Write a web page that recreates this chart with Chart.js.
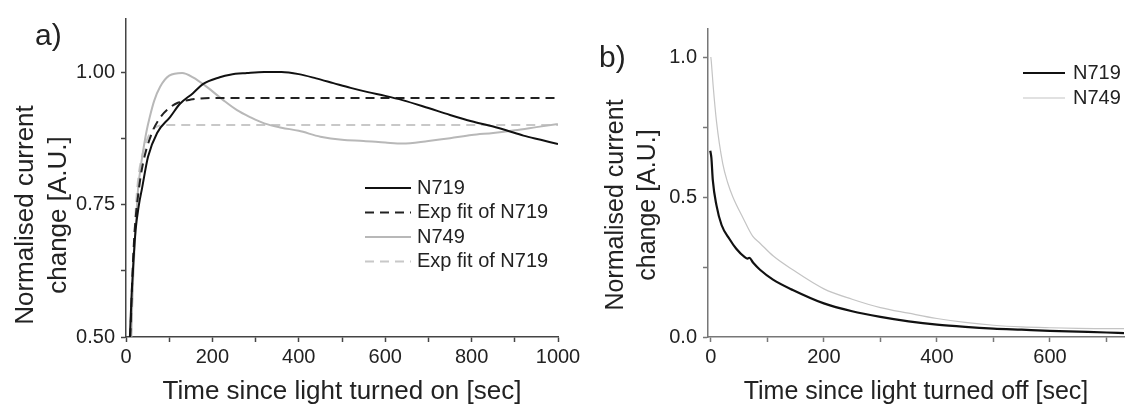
<!DOCTYPE html>
<html>
<head>
<meta charset="utf-8">
<script src="https://cdn.jsdelivr.net/npm/chart.js@4/dist/chart.umd.min.js"></script>
<style>
  body { margin: 0; background: #fff; width: 1125px; height: 407px; position: relative; overflow: hidden;
         font-family: "Liberation Sans", Arial, sans-serif; color: #222; }
  canvas { position: absolute; top: 0; }
  #chartA { left: 0; }
  #chartB { left: 560px; }
  .tag { position: absolute; font-size: 30px; line-height: 30px; }
  .ytitle { position: absolute; white-space: nowrap; text-align: center;
            transform: translate(-50%, -50%) rotate(-90deg); }
</style>
</head>
<body>
<canvas id="chartA" width="600" height="407"></canvas>
<canvas id="chartB" width="565" height="407"></canvas>
<div class="tag" style="left:35px; top:20px;">a)</div>
<div class="tag" style="left:599px; top:42px;">b)</div>
<div class="ytitle" style="left:41px; top:215px; font-size:26px; line-height:33px;">Normalised current<br>change [A.U.]</div>
<div class="ytitle" style="left:630px; top:205px; font-size:25px; line-height:32px;">Normalised current<br>change [A.U.]</div>

<script>
// ---- panel a: light turned on ----
const n719OnTime = [9, 13, 17, 22, 30, 37, 51, 72, 102, 125, 155, 178, 217, 241, 280, 320, 360, 400, 440, 480, 520, 560, 600, 640, 700, 750, 800, 850, 880, 920, 960, 1000];
const n719On     = [0.50, 0.58, 0.64, 0.70, 0.75, 0.78, 0.84, 0.885, 0.915, 0.94, 0.96, 0.977, 0.99, 0.995, 0.998, 1.0, 1.0, 0.996, 0.988, 0.979, 0.97, 0.962, 0.955, 0.947, 0.932, 0.919, 0.907, 0.897, 0.89, 0.88, 0.872, 0.864];

const n719FitTime = [10, 15, 20, 30, 40, 60, 80, 100, 120, 150, 200, 1000];
const n719Fit     = [0.50, 0.62, 0.70, 0.78, 0.83, 0.885, 0.915, 0.932, 0.942, 0.948, 0.951, 0.951];

const n749OnTime = [12, 16, 20, 24, 28, 34, 40, 48, 55, 65, 79, 100, 130, 155, 187, 225, 257, 287, 320, 360, 400, 450, 500, 550, 600, 640, 700, 750, 800, 850, 900, 950, 1000];
const n749On     = [0.50, 0.60, 0.67, 0.73, 0.78, 0.82, 0.853, 0.89, 0.915, 0.945, 0.972, 0.993, 0.998, 0.99, 0.972, 0.947, 0.928, 0.915, 0.903, 0.895, 0.889, 0.878, 0.872, 0.87, 0.867, 0.865, 0.87, 0.875, 0.881, 0.885, 0.89, 0.896, 0.902];

const n749FitTime = [12, 16, 20, 25, 30, 40, 50, 60, 75, 100, 1000];
const n749Fit     = [0.50, 0.62, 0.70, 0.77, 0.81, 0.85, 0.875, 0.89, 0.898, 0.90, 0.90];

const xTicksA  = [0, 100, 200, 300, 400, 500, 600, 700, 800, 900, 1000];
const xLabelsA = ['0', '', '200', '', '400', '', '600', '', '800', '', '1000'];
const yTicksA  = [0.5, 0.625, 0.75, 0.875, 1.0];
const yLabelsA = ['0.50', '', '0.75', '', '1.00'];

// ---- panel b: light turned off ----
const n719OffTime = [-1, 1, 3.5, 10, 19, 33, 45, 60, 65, 68, 75, 87, 110, 145, 200, 250, 300, 350, 400, 450, 500, 550, 600, 650, 700, 731];
const n719Off     = [0.665, 0.64, 0.56, 0.47, 0.40, 0.35, 0.315, 0.285, 0.28, 0.283, 0.265, 0.24, 0.205, 0.168, 0.12, 0.092, 0.072, 0.056, 0.044, 0.036, 0.030, 0.026, 0.022, 0.019, 0.016, 0.014];

const n749OffTime = [0, 1, 4, 10, 21, 30, 39, 57, 74, 87, 110, 145, 200, 250, 300, 350, 400, 450, 500, 550, 600, 650, 700, 731];
const n749Off     = [1.0, 0.98, 0.90, 0.77, 0.62, 0.55, 0.50, 0.425, 0.36, 0.335, 0.29, 0.24, 0.172, 0.135, 0.105, 0.085, 0.066, 0.052, 0.042, 0.036, 0.033, 0.031, 0.030, 0.030];

const xTicksB  = [0, 100, 200, 300, 400, 500, 600, 700];
const xLabelsB = ['0', '', '200', '', '400', '', '600', ''];
const yTicksB  = [0, 0.25, 0.5, 0.75, 1.0];
const yLabelsB = ['0.0', '', '0.5', '', '1.0'];

const fam = '"Liberation Sans", Arial, sans-serif';

function pts(xs, ys) {
  return xs.map((x, i) => ({ x: x, y: ys[i] }));
}

// legend drawn inside the plot, short line sample + label
const lineKey = {
  id: 'lineKey',
  afterDatasetsDraw(chart, args, o) {
    const ctx = chart.ctx;
    ctx.save();
    ctx.font = o.size + 'px ' + fam;
    ctx.textBaseline = 'middle';
    chart.data.datasets.forEach((ds, i) => {
      const y = o.y + i * o.gap;
      ctx.beginPath();
      ctx.setLineDash(ds.borderDash || []);
      ctx.strokeStyle = ds.borderColor;
      ctx.lineWidth = ds.borderWidth;
      ctx.moveTo(o.x, y);
      ctx.lineTo(o.x + o.len, y);
      ctx.stroke();
      ctx.setLineDash([]);
      ctx.fillStyle = '#222';
      ctx.fillText(ds.label, o.x + o.len + o.pad, y);
    });
    ctx.restore();
  }
};

function axis(min, max, ticks, labels, axisColor, yAxis, width, title, titleSize) {
  const s = {
    type: 'linear',
    min: min,
    max: max,
    afterBuildTicks: sc => { sc.ticks = ticks.map(v => ({ value: v })); },
    ticks: {
      autoSkip: false,
      maxRotation: 0,
      padding: yAxis ? 6 : 3,
      color: '#222',
      font: { family: fam, size: 20 },
      callback: (v, i) => labels[i]
    },
    grid: { drawOnChartArea: false, drawTicks: true, tickLength: 5, tickColor: axisColor, tickWidth: 1.5 },
    border: { display: true, color: axisColor, width: 1.5 }
  };
  if (yAxis) {
    s.afterFit = sc => { sc.width = width; };
  } else {
    s.afterFit = sc => { sc.height = 70; };
    s.title = { display: true, text: title, color: '#222', padding: { top: 0, bottom: 0 },
                font: { family: fam, size: titleSize } };
  }
  return s;
}

const base = {
  responsive: false,
  animation: false,
  events: [],
  elements: { point: { radius: 0 }, line: { cubicInterpolationMode: 'monotone' } }
};

new Chart(document.getElementById('chartA'), {
  type: 'line',
  data: {
    datasets: [
      { label: 'N719', data: pts(n719OnTime, n719On), borderColor: '#111', borderWidth: 2 },
      { label: 'Exp fit of N719', data: pts(n719FitTime, n719Fit), borderColor: '#222', borderWidth: 2, borderDash: [9, 6] },
      { label: 'N749', data: pts(n749OnTime, n749On), borderColor: '#b8b8b8', borderWidth: 2 },
      { label: 'Exp fit of N719', data: pts(n749FitTime, n749Fit), borderColor: '#c8c8c8', borderWidth: 2, borderDash: [9, 6] }
    ]
  },
  options: Object.assign({}, base, {
    layout: { padding: { left: 0, top: 19, right: 42, bottom: 0 } },
    scales: {
      x: axis(0, 1000, xTicksA, xLabelsA, '#444', false, 0, 'Time since light turned on [sec]', 26),
      y: axis(0.5, 1.1, yTicksA, yLabelsA, '#444', true, 126)
    },
    plugins: {
      legend: { display: false },
      tooltip: { enabled: false },
      lineKey: { x: 365, y: 188, gap: 24.5, len: 46, pad: 6, size: 20 }
    }
  }),
  plugins: [lineKey]
});

new Chart(document.getElementById('chartB'), {
  type: 'line',
  data: {
    datasets: [
      { label: 'N719', data: pts(n719OffTime, n719Off), borderColor: '#111', borderWidth: 2.2 },
      { label: 'N749', data: pts(n749OffTime, n749Off), borderColor: '#c4c4c4', borderWidth: 1.2 }
    ]
  },
  options: Object.assign({}, base, {
    layout: { padding: { left: 0, top: 29, right: 1, bottom: 0 } },
    scales: {
      x: axis(-5, 731, xTicksB, xLabelsB, '#777', false, 0, 'Time since light turned off [sec]', 25),
      y: axis(0, 1.1, yTicksB, yLabelsB, '#777', true, 148)
    },
    plugins: {
      legend: { display: false },
      tooltip: { enabled: false },
      lineKey: { x: 463, y: 73, gap: 25, len: 42, pad: 8, size: 20 }
    }
  }),
  plugins: [lineKey]
});
</script>
</body>
</html>
